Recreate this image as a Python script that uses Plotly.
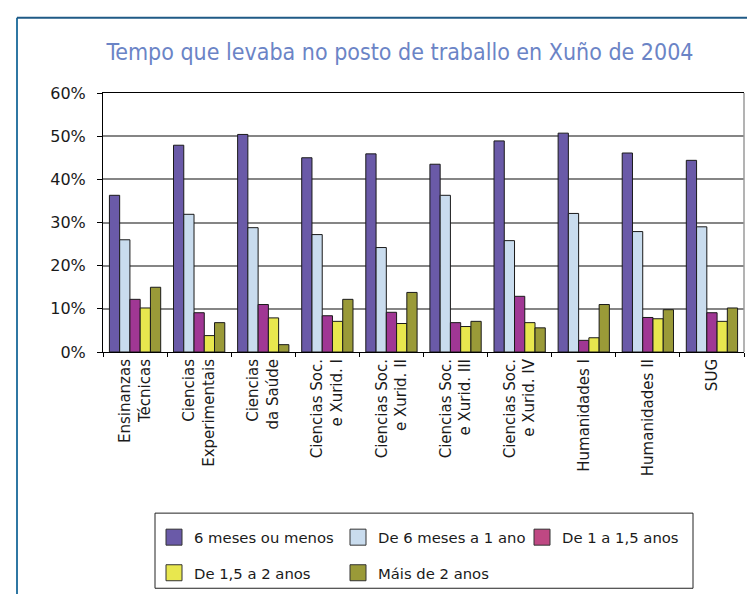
import plotly.graph_objects as go

categories = [
    "Ensinanzas<br>Técnicas",
    "Ciencias<br>Experimentais",
    "Ciencias<br>da Saúde",
    "Ciencias Soc.<br>e Xurid. I",
    "Ciencias Soc.<br>e Xurid. II",
    "Ciencias Soc.<br>e Xurid. III",
    "Ciencias Soc.<br>e Xurid. IV",
    "Humanidades I",
    "Humanidades II",
    "SUG",
]

series_names = [
    "6 meses ou menos",
    "De 6 meses a 1 ano",
    "De 1 a 1,5 anos",
    "De 1,5 a 2 anos",
    "Máis de 2 anos",
]

s_6m = [36.3, 47.9, 50.4, 45.0, 45.9, 43.5, 48.9, 50.7, 46.1, 44.4]
s_6m_1a = [26.0, 31.9, 28.8, 27.2, 24.2, 36.3, 25.8, 32.1, 27.9, 29.0]
s_1_15 = [12.2, 9.1, 11.0, 8.4, 9.2, 6.8, 12.9, 2.7, 8.0, 9.1]
s_15_2 = [10.2, 3.8, 7.9, 7.1, 6.6, 5.9, 6.8, 3.3, 7.7, 7.1]
s_2plus = [15.0, 6.8, 1.7, 12.2, 13.8, 7.1, 5.6, 11.0, 9.8, 10.2]

y_ticks = [0, 10, 20, 30, 40, 50, 60]
y_ticktext = [f"{v}%" for v in y_ticks]

values = [s_6m, s_6m_1a, s_1_15, s_15_2, s_2plus]
colors = ["#6a5aa8", "#c9dcee", "#a03794", "#e8e74e", "#9a9a38"]
legend_colors = ["#6a5aa8", "#c9dcee", "#bf4883", "#e8e74e", "#9a9a38"]
legend_ids = ["legend", "legend", "legend", "legend2", "legend2"]

FONT = "DejaVu Sans"

fig = go.Figure()
for name, vals, col in zip(series_names, values, colors):
    fig.add_trace(go.Bar(
        x=categories, y=vals, name=name,
        marker=dict(color=col, line=dict(color="#1a1a1a", width=1)),
        showlegend=False,
    ))

# legend entries (square swatches)
for name, col, lg in zip(series_names, legend_colors, legend_ids):
    fig.add_trace(go.Scatter(
        x=[None], y=[None], mode="markers", name=name, legend=lg,
        marker=dict(symbol="square", size=16, color=col,
                    line=dict(color="#333333", width=1)),
    ))

W, H = 755, 594
L, R, T, B = 95, 19, 85, 247
pw, ph = W - L - R, H - T - B

def px_x(x):
    return (x - L) / pw

def px_y(y):
    return (H - B - y) / ph

legend_font = dict(family=FONT, size=14.8, color="#1a1a1a")

fig.update_layout(
    width=W, height=H,
    margin=dict(l=L, r=R, t=T, b=B),
    paper_bgcolor="white", plot_bgcolor="white",
    barmode="group", bargap=0.2, bargroupgap=0,
    title=dict(
        text="Tempo que levaba no posto de traballo en Xuño de 2004",
        font=dict(family="DejaVu Sans Condensed, Roboto, sans-serif", size=23,
                  color="#6b84c6"),
        x=392 / W, xanchor="center", y=1 - 44 / H, yanchor="middle",
    ),
    font=dict(family=FONT, color="#1a1a1a"),
    legend=dict(
        orientation="h", x=px_x(146), xanchor="left", y=px_y(518), yanchor="top",
        entrywidth=139, font=legend_font,
        bgcolor="rgba(0,0,0,0)", borderwidth=0,
    ),
    legend2=dict(
        orientation="h", x=px_x(146), xanchor="left", y=px_y(554), yanchor="top",
        entrywidth=139, font=legend_font,
        bgcolor="rgba(0,0,0,0)", borderwidth=0,
    ),
    xaxis=dict(
        type="category", showline=True, linecolor="#000000", linewidth=1,
        mirror=True, ticks="outside", tickson="boundaries", ticklen=4,
        tickcolor="#000000", tickangle=-90, showgrid=False,
        tickfont=dict(family=FONT, size=15, color="#1a1a1a"),
    ),
    yaxis=dict(
        range=[0, 60], tickvals=y_ticks, ticktext=y_ticktext,
        showline=True, linecolor="#000000", linewidth=1,
        ticks="outside", ticklen=5, tickcolor="#000000",
        ticklabelstandoff=8,
        showgrid=True, gridcolor="#858585", gridwidth=1.5, zeroline=False,
        tickfont=dict(family=FONT, size=16, color="#1a1a1a"),
    ),
    shapes=[
        # right border of plot area
        dict(type="line", xref="paper", yref="paper", x0=1, x1=1, y0=0, y1=1,
             line=dict(color="#9a9a9a", width=1.5)),
        # legend box
        dict(type="rect", xref="paper", yref="paper",
             x0=px_x(147), x1=px_x(685), y0=px_y(586), y1=px_y(510),
             line=dict(color="#222222", width=1), layer="below"),
        # outer frame (left and top)
        dict(type="line", xref="paper", yref="paper",
             x0=px_x(9), x1=px_x(9), y0=px_y(9), y1=px_y(600),
             line=dict(color="#2f77a3", width=2)),
        dict(type="line", xref="paper", yref="paper",
             x0=px_x(9), x1=px_x(760), y0=px_y(9), y1=px_y(9),
             line=dict(color="#1f5a86", width=2)),
    ],
)

fig.write_html("out.html")
